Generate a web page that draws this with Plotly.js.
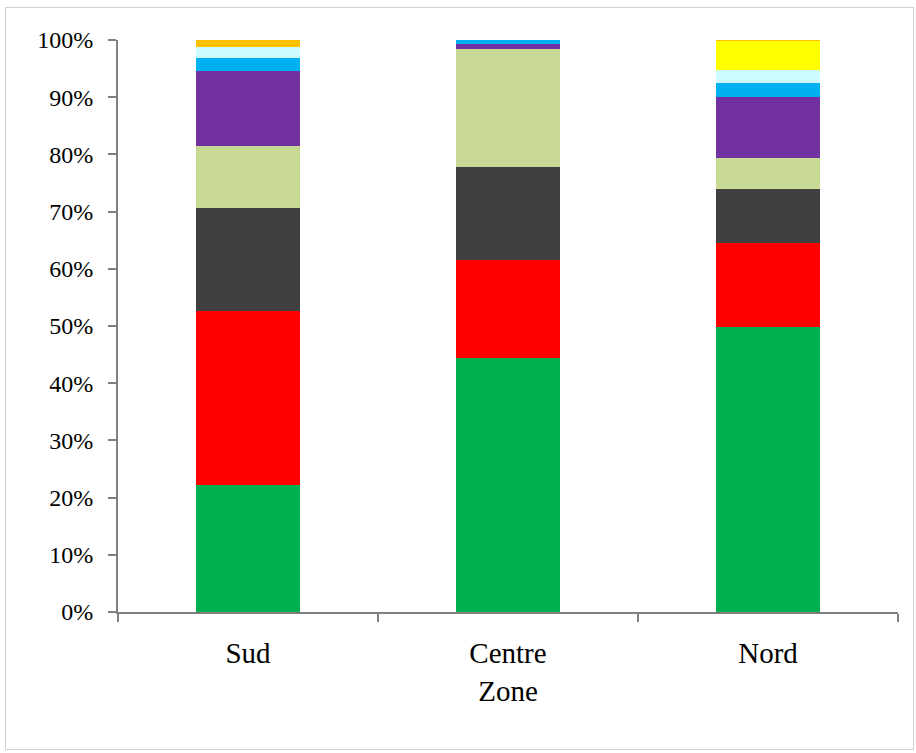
<!DOCTYPE html>
<html>
<head>
<meta charset="utf-8">
<script src="https://cdn.plot.ly/plotly-3.0.1.min.js"></script>
<style>
html,body{margin:0;padding:0;background:#fff;}
#wrap{position:relative;width:916px;height:753px;}
#chart{width:916px;height:753px;}
#frame{position:absolute;left:5px;top:7px;width:907px;height:741px;border:1px solid #d0d0d0;pointer-events:none;}
</style>
</head>
<body>
<div id="wrap"><div id="chart"></div><div id="frame"></div></div>
<script>
const zones = ["Sud", "Centre", "Nord"];
const green = [22.2, 44.4, 49.8];
const red = [30.4, 17.1, 14.7];
const darkgray = [18.0, 16.3, 9.5];
const lightgreen = [10.9, 20.7, 5.4];
const purple = [13.1, 0.8, 10.7];
const blue = [2.3, 0.7, 2.3];
const lightcyan = [1.9, 0.0, 2.4];
const yellow = [0.0, 0.0, 5.0];
const orange = [1.2, 0.0, 0.2];

const seriesList = [
  {name: "S1", v: green, c: "#00B050"},
  {name: "S2", v: red, c: "#FF0000"},
  {name: "S3", v: darkgray, c: "#404040"},
  {name: "S4", v: lightgreen, c: "#C9DA96"},
  {name: "S5", v: purple, c: "#7030A0"},
  {name: "S6", v: blue, c: "#00B0F0"},
  {name: "S7", v: lightcyan, c: "#CCFAFF"},
  {name: "S8", v: yellow, c: "#FFFF00"},
  {name: "S9", v: orange, c: "#FFC000"}
];

const traces = seriesList.map(s => ({
  type: "bar", x: zones, y: s.v, name: s.name,
  marker: {color: s.c, line: {width: 0}}, hoverinfo: "y"
}));

const font = "Constantia, 'Liberation Serif', 'DejaVu Serif', serif";
const layout = {
  barmode: "stack",
  bargap: 0.6,
  showlegend: false,
  width: 916, height: 753,
  margin: {l: 118, r: 18, t: 40, b: 141},
  paper_bgcolor: "#ffffff",
  plot_bgcolor: "rgba(0,0,0,0)",
  font: {family: font, color: "#000"},
  xaxis: {
    type: "category",
    showline: true, linecolor: "#808080", linewidth: 2,
    ticks: "outside", tickson: "boundaries", ticklen: 8, tickcolor: "#808080", tickwidth: 2,
    tickfont: {size: 29, family: font},
    ticklabelstandoff: 14,
    showgrid: false, zeroline: false,
    title: {text: "Zone", font: {size: 29, family: font}, standoff: 13}
  },
  yaxis: {
    range: [0, 100],
    tickvals: [0,10,20,30,40,50,60,70,80,90,100],
    ticktext: ["0%","10%","20%","30%","40%","50%","60%","70%","80%","90%","100%"],
    showline: true, linecolor: "#808080", linewidth: 2,
    ticks: "outside", ticklen: 8, tickcolor: "#808080", tickwidth: 2,
    tickfont: {size: 24, family: font},
    ticklabelstandoff: 10,
    showgrid: false, zeroline: false
  }
};

Plotly.newPlot("chart", traces, layout, {displayModeBar: false, staticPlot: true});
</script>
</body>
</html>
